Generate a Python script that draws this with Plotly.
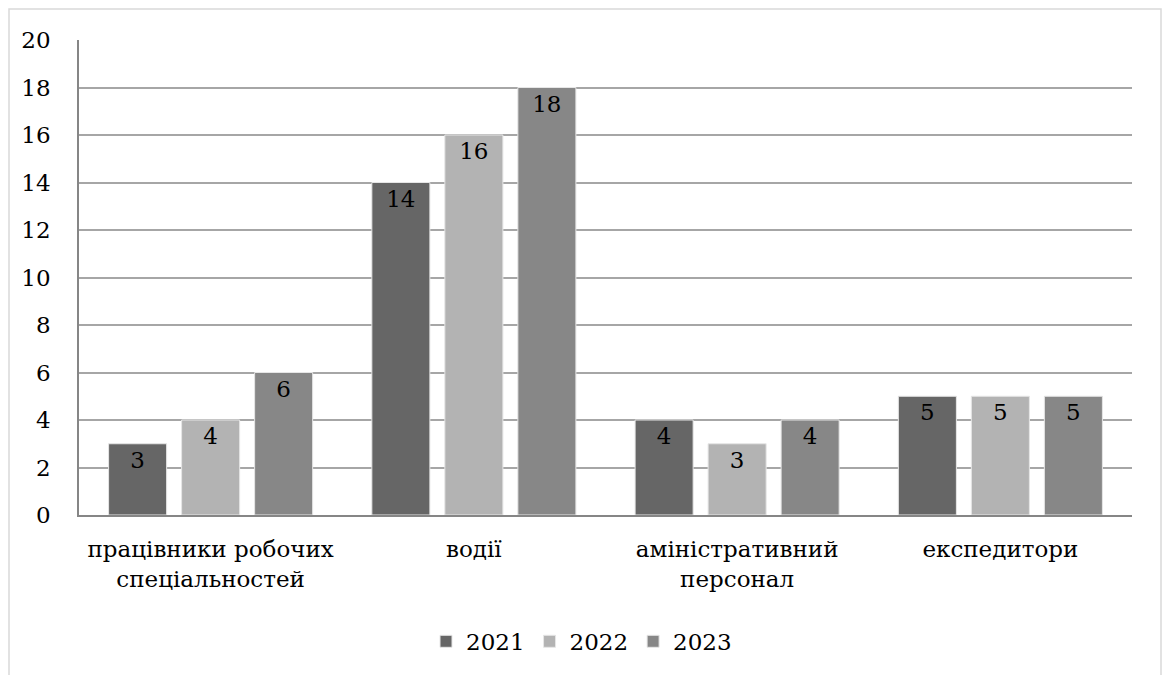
import plotly.graph_objects as go

categories = ["працівники робочих<br>спеціальностей", "водії", "аміністративний<br>персонал", "експедитори"]
years = ["2021", "2022", "2023"]
v2021 = [3, 14, 4, 5]
v2022 = [4, 16, 3, 5]
v2023 = [6, 18, 4, 5]
colors = ["#666666", "#b3b3b3", "#878787"]
yticks = list(range(0, 21, 2))

W, H = 1163, 675
ml, mr, mt, mb = 79, 31, 40, 160
font = "DejaVu Serif"
fs = 23

fig = go.Figure()
for name, vals, c in zip(years, [v2021, v2022, v2023], colors):
    fig.add_trace(go.Bar(
        x=categories, y=vals, name=name, marker=dict(color=c, line=dict(color="#e6e6e6", width=1)),
        text=[str(v) for v in vals], textposition="inside", insidetextanchor="end",
        textfont=dict(family=font, size=fs, color="black"), textangle=0,
    ))

pw = W - ml - mr
ph = H - mt - mb
fig.add_shape(type="rect", xref="paper", yref="paper",
              x0=(9 - ml) / pw, x1=(1161 - ml) / pw,
              y0=-(H - 10 - mt - ph) / ph * 1.5, y1=1 + (mt - 9) / ph,
              line=dict(color="#d9d9d9", width=1.5), fillcolor="rgba(0,0,0,0)", layer="below")

fig.update_layout(
    width=W, height=H,
    margin=dict(l=ml, r=mr, t=mt, b=mb),
    paper_bgcolor="white", plot_bgcolor="white",
    barmode="group", bargap=0.168, bargroupgap=0.205,
    font=dict(family=font, size=fs, color="black"),
    uniformtext=dict(minsize=fs, mode="show"),
    showlegend=True,
    legend=dict(orientation="h", xref="container", x=0.5, xanchor="center",
                yref="container", y=0.018, yanchor="bottom",
                font=dict(family=font, size=fs, color="black"),
                itemwidth=30, traceorder="normal"),
    xaxis=dict(showline=True, linecolor="#868686", linewidth=2, ticks="outside", ticklen=0,
               ticklabelstandoff=12,
               tickfont=dict(family=font, size=fs, color="black"),
               showgrid=False),
    yaxis=dict(range=[0, 20], tickvals=yticks, showline=True, linecolor="#868686", linewidth=1.5,
               gridcolor="#a6a6a6", gridwidth=1.5, zeroline=False,
               ticks="outside", ticklen=0, ticklabelstandoff=22,
               tickfont=dict(family=font, size=fs, color="black")),
)
fig.write_html("out.html")
